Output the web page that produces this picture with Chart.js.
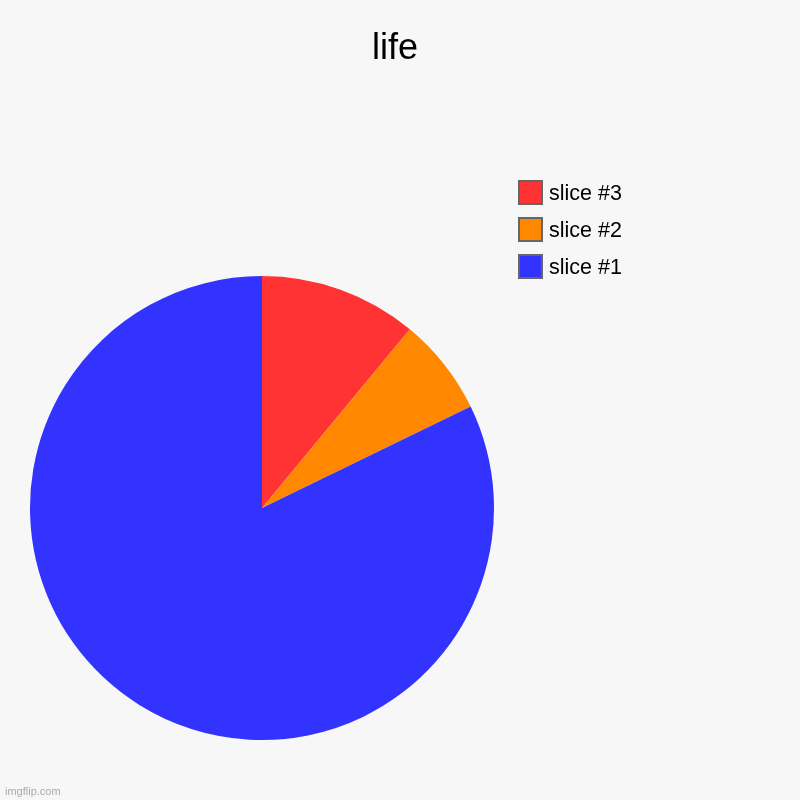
<!DOCTYPE html>
<html>
<head>
<meta charset="utf-8">
<script src="https://cdn.jsdelivr.net/npm/chart.js@4"></script>
<style>
  html, body { margin: 0; padding: 0; background: #f7f7f7; }
  #wrap { width: 800px; height: 800px; }
</style>
</head>
<body>
<div id="wrap"><canvas id="myChart" width="800" height="800"></canvas></div>
<script>
  const titleText = 'life';
  const labels = ['slice #3', 'slice #2', 'slice #1'];
  const values = [11, 6.8, 82.2];
  const colors = ['rgb(255, 51, 51)', 'rgb(255, 136, 0)', 'rgb(51, 51, 255)'];

  // title, legend and watermark sit where the chart layout can't put them
  const decorations = {
    id: 'decorations',
    beforeDraw(chart) {
      const ctx = chart.ctx;
      ctx.save();
      ctx.fillStyle = '#f7f7f7';
      ctx.fillRect(0, 0, chart.width, chart.height);
      ctx.restore();
    },
    afterDraw(chart) {
      const ctx = chart.ctx;
      ctx.save();
      ctx.fillStyle = '#000';
      ctx.font = '36px "Liberation Sans", Arial, sans-serif';
      ctx.textAlign = 'center';
      ctx.textBaseline = 'alphabetic';
      ctx.fillText(titleText, 395, 59);

      ctx.font = '21.5px "Liberation Sans", Arial, sans-serif';
      ctx.textAlign = 'left';
      chart.data.labels.forEach((lab, i) => {
        const y = 181 + i * 37;
        ctx.fillStyle = chart.data.datasets[0].backgroundColor[i];
        ctx.fillRect(519, y, 23, 23);
        ctx.strokeStyle = '#666';
        ctx.lineWidth = 2;
        ctx.strokeRect(519, y, 23, 23);
        ctx.fillStyle = '#000';
        ctx.fillText(lab, 549, y + 19);
      });

      ctx.font = '11px "Liberation Sans", Arial, sans-serif';
      ctx.fillStyle = '#aaa';
      ctx.fillText('imgflip.com', 5, 795);
      ctx.restore();
    }
  };

  const config = {
    type: 'pie',
    data: {
      labels: labels,
      datasets: [{
        data: values,
        backgroundColor: colors,
        borderWidth: 0,
      }]
    },
    options: {
      responsive: false,
      animation: false,
      layout: {
        padding: { left: 30, right: 306, top: 276, bottom: 60 }
      },
      plugins: {
        legend: { display: false },
        title: { display: false },
        tooltip: { enabled: false }
      }
    },
    plugins: [decorations]
  };

  const myChart = new Chart(document.getElementById('myChart'), config);
</script>
</body>
</html>
